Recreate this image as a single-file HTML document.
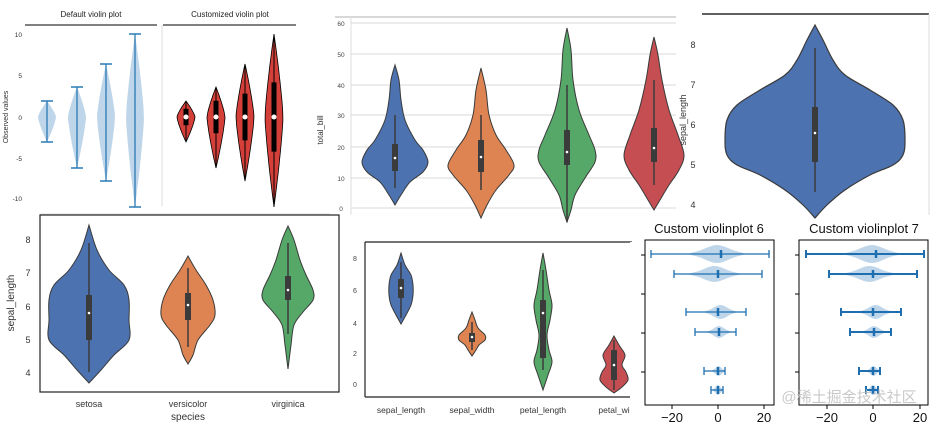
<!DOCTYPE html>
<html><head><meta charset="utf-8"><style>
html,body{margin:0;padding:0;background:#fff;}
svg{display:block;}
text{font-family:"Liberation Sans","DejaVu Sans",sans-serif;}
</style></head><body>
<svg id="s" width="939" height="423" viewBox="0 0 939 423" xmlns="http://www.w3.org/2000/svg">
<rect width="939" height="423" fill="#fff"/>
<line x1="25" y1="25" x2="157" y2="25" stroke="#000" stroke-width="1"/>
<line x1="163" y1="25" x2="296" y2="25" stroke="#000" stroke-width="1"/>
<line x1="162" y1="25" x2="162" y2="206" stroke="#ddd" stroke-width="1"/>
<line x1="40" y1="214" x2="330" y2="214" stroke="#ddd" stroke-width="1"/>
<text x="91" y="17" font-size="8" text-anchor="middle" fill="#222">Default violin plot</text>
<text x="230" y="17" font-size="8" text-anchor="middle" fill="#222">Customized violin plot</text>
<g font-size="6.5" fill="#333" text-anchor="end">
<text x="22" y="37">10</text><text x="22" y="78">5</text><text x="22" y="120">0</text><text x="22" y="161">-5</text><text x="22" y="201">-10</text>
</g>
<text transform="translate(8,117) rotate(-90)" font-size="7" text-anchor="middle" fill="#333">Observed values</text>
<line x1="335" y1="17" x2="676" y2="17" stroke="#ccc" stroke-width="1.5"/>
<g stroke="#d8d8d8" stroke-width="1">
<line x1="351" y1="23" x2="676" y2="23"/><line x1="351" y1="54" x2="676" y2="54"/><line x1="351" y1="85" x2="676" y2="85"/>
<line x1="351" y1="115" x2="676" y2="115"/><line x1="351" y1="147" x2="676" y2="147"/><line x1="351" y1="178" x2="676" y2="178"/><line x1="351" y1="208" x2="676" y2="208"/>
</g>
<line x1="351" y1="17" x2="351" y2="215" stroke="#ddd"/>
<g font-size="6.5" fill="#444" text-anchor="middle">
<text x="341" y="26">60</text><text x="341" y="57">50</text><text x="341" y="88">40</text><text x="341" y="118">30</text><text x="341" y="150">20</text><text x="341" y="181">10</text><text x="341" y="211">0</text>
</g>
<text transform="translate(323,130) rotate(-90)" font-size="8" text-anchor="middle" fill="#333">total_bill</text>
<line x1="702" y1="14" x2="929" y2="14" stroke="#000" stroke-width="1.2"/>
<line x1="929" y1="14" x2="929" y2="215" stroke="#ddd" stroke-width="1"/>
<g font-size="9" fill="#333" text-anchor="middle">
<text x="693" y="48">8</text><text x="693" y="88">7</text><text x="693" y="128">6</text><text x="693" y="168">5</text><text x="693" y="208">4</text>
</g>
<text transform="translate(686,120) rotate(-90)" font-size="9" text-anchor="middle" fill="#333">sepal_length</text>
<rect x="40" y="215" width="299" height="177" fill="none" stroke="#222" stroke-width="1.2"/>
<g font-size="9" fill="#333" text-anchor="middle">
<text x="28" y="243">8</text><text x="28" y="276">7</text><text x="28" y="310">6</text><text x="28" y="343">5</text><text x="28" y="376">4</text>
</g>
<text transform="translate(14,303) rotate(-90)" font-size="10" text-anchor="middle" fill="#333">sepal_length</text>
<g font-size="9" fill="#333" text-anchor="middle">
<text x="89" y="407">setosa</text><text x="188" y="407">versicolor</text><text x="288" y="407">virginica</text>
<text x="188" y="420" font-size="10">species</text>
</g>
<polyline points="365,242 632,242" stroke="#222" stroke-width="1.2" fill="none"/>
<line x1="365" y1="242" x2="365" y2="397" stroke="#222" stroke-width="1.2"/>
<line x1="365" y1="397" x2="632" y2="397" stroke="#222" stroke-width="1.2"/>
<g font-size="7" fill="#444" text-anchor="middle">
<text x="355" y="261">8</text><text x="355" y="293">6</text><text x="355" y="326">4</text><text x="355" y="356">2</text><text x="355" y="387">0</text>
</g>
<g font-size="8.5" fill="#333" text-anchor="middle">
<text x="401" y="413">sepal_length</text><text x="472" y="413">sepal_width</text><text x="543" y="413">petal_length</text><text x="614" y="413">petal_wi</text>
</g>
<rect x="630" y="242" width="14" height="160" fill="#fff"/>
<text x="709" y="233" font-size="13" text-anchor="middle" fill="#111" font-family="DejaVu Sans">Custom violinplot 6</text>
<text x="864" y="233" font-size="13" text-anchor="middle" fill="#111" font-family="DejaVu Sans">Custom violinplot 7</text>
<rect x="645" y="240" width="129" height="165" fill="none" stroke="#000" stroke-width="1"/>
<rect x="799" y="240" width="129" height="165" fill="none" stroke="#000" stroke-width="1"/>
<g stroke="#000" stroke-width="1">
<line x1="641" y1="255" x2="645" y2="255"/><line x1="641" y1="294" x2="645" y2="294"/><line x1="641" y1="333" x2="645" y2="333"/><line x1="641" y1="372" x2="645" y2="372"/>
<line x1="795" y1="255" x2="799" y2="255"/><line x1="795" y1="294" x2="799" y2="294"/><line x1="795" y1="333" x2="799" y2="333"/><line x1="795" y1="372" x2="799" y2="372"/>
<line x1="672" y1="405" x2="672" y2="409"/><line x1="718" y1="405" x2="718" y2="409"/><line x1="764" y1="405" x2="764" y2="409"/>
<line x1="827" y1="405" x2="827" y2="409"/><line x1="873" y1="405" x2="873" y2="409"/><line x1="920" y1="405" x2="920" y2="409"/>
</g>
<g font-size="13" fill="#111" text-anchor="middle" font-family="DejaVu Sans">
<text x="672" y="422">−20</text><text x="718" y="422">0</text><text x="764" y="422">20</text>
<text x="827" y="422">−20</text><text x="873" y="422">0</text><text x="920" y="422">20</text>
</g>
<g id="v"></g>
<text x="849" y="402" font-size="15" fill="#bbb" fill-opacity="0.8" text-anchor="middle" font-family="'Noto Sans CJK SC',sans-serif">@稀土掘金技术社区</text>
</svg>
<script>
var g=document.getElementById('v'),NS='http://www.w3.org/2000/svg';
function el(t,a){var e=document.createElementNS(NS,t);for(var k in a)e.setAttribute(k,a[k]);g.appendChild(e);return e;}
function cr(P){var d='M'+P[0][0].toFixed(1)+' '+P[0][1].toFixed(1);for(var i=0;i<P.length-1;i++){var p0=P[i-1]||P[i],p1=P[i],p2=P[i+1],p3=P[i+2]||p2;
var c1=[p1[0]+(p2[0]-p0[0])/6,p1[1]+(p2[1]-p0[1])/6],c2=[p2[0]-(p3[0]-p1[0])/6,p2[1]-(p3[1]-p1[1])/6];
d+='C'+c1[0].toFixed(1)+' '+c1[1].toFixed(1)+' '+c2[0].toFixed(1)+' '+c2[1].toFixed(1)+' '+p2[0].toFixed(1)+' '+p2[1].toFixed(1);}return d;}
function vV(cx,pts,fill,stroke,sw){var R=pts.map(function(p){return[cx+p[1],p[0]]}),L=pts.slice().reverse().map(function(p){return[cx-p[1],p[0]]});
var d=cr(R)+' L'+cr(L).slice(1)+'Z';el('path',{d:d,fill:fill,stroke:stroke||'none','stroke-width':sw||1});}
function vH(cy,pts,fill){var T=pts.map(function(p){return[p[0],cy-p[1]]}),B=pts.slice().reverse().map(function(p){return[p[0],cy+p[1]]});
el('path',{d:cr(T)+' L'+cr(B).slice(1)+'Z',fill:fill});}
function inner(cx,w1,w2,b1,b2,m){el('line',{x1:cx,y1:w1,x2:cx,y2:w2,stroke:'#3b3b3b','stroke-width':1.5});
el('rect',{x:cx-3,y:b1,width:6,height:b2-b1,fill:'#3b3b3b'});el('circle',{cx:cx,cy:m,r:1.3,fill:'#fff'});}
var A=[[47,101,142,9],[77,87,168,9],[106,64,181,9],[135,34,207,9]];
A.forEach(function(a){var cx=a[0],t=a[1],b=a[2],W=a[3];
var pts=[];for(var i=0;i<=16;i++){var y=t+(b-t)*i/16;var u=y<117?(117-y)/(117-t):(y-117)/(b-117);var w=W*Math.max(0,1-Math.pow(u,1.3));pts.push([y,w*(0.15+0.85*(1-u*u*0))]);}
vV(cx,pts,'#bfd6ea');
el('line',{x1:cx,y1:t,x2:cx,y2:b,stroke:'#2a7bb6','stroke-width':1.3});
el('line',{x1:cx-6,y1:t,x2:cx+6,y2:t,stroke:'#2a7bb6','stroke-width':1.5});
el('line',{x1:cx-6,y1:b,x2:cx+6,y2:b,stroke:'#2a7bb6','stroke-width':1.5});
var cx2=cx+139;
vV(cx2,pts,'#d43f3a','#000',0.8);
el('line',{x1:cx2,y1:t,x2:cx2,y2:b,stroke:'#000','stroke-width':1});
var q=(b-t)*0.2;el('line',{x1:cx2,y1:117-q,x2:cx2,y2:117+q,stroke:'#000','stroke-width':5});
el('circle',{cx:cx2,cy:117,r:2.5,fill:'#fff'});});
vV(395,[[65,0],[80,4],[100,6],[120,10],[140,20],[150,28],[162,33],[172,28],[182,15],[195,6],[205,0]],'#4c72b0','#3a3a3a',1);
inner(395,115,188,144,171,158);
vV(481,[[68,0],[90,5],[115,8],[135,15],[150,25],[165,33],[175,28],[190,15],[205,6],[218,0]],'#dd8452','#3a3a3a',1);
inner(481,115,190,140,172,157);
vV(567,[[28,0],[50,4],[80,6],[110,12],[135,22],[150,28],[162,28],[178,18],[195,8],[210,4],[222,0]],'#55a868','#3a3a3a',1);
inner(567,85,222,130,165,152);
vV(654,[[37,0],[55,4],[80,8],[110,15],[135,24],[155,30],[170,25],[185,15],[200,6],[210,0]],'#c44e52','#3a3a3a',1);
inner(654,80,185,128,162,148);
vV(815,[[25,0],[40,8],[60,18],[75,30],[90,55],[105,78],[120,88],[140,90],[155,88],[165,78],[175,55],[190,30],[205,12],[218,0]],'#4c72b0','#3a3a3a',1.2);
inner(815,48,192,107,162,133);
vV(89,[[225,0],[250,8],[270,20],[285,35],[300,40],[320,40],[340,40],[355,25],[370,12],[383,0]],'#4c72b0','#3a3a3a',1);
inner(89,243,372,295,340,313);
vV(188,[[256,0],[270,8],[285,18],[300,25],[315,27],[325,22],[340,10],[355,5],[364,0]],'#dd8452','#3a3a3a',1);
inner(188,268,347,293,320,305);
vV(288,[[226,0],[240,6],[260,12],[275,18],[290,25],[300,25],[312,15],[325,6],[345,3],[369,0]],'#55a868','#3a3a3a',1);
inner(288,243,334,276,300,290);
vV(401,[[253,0],[265,4],[275,10],[285,12],[295,12],[305,10],[315,5],[324,0]],'#4c72b0','#3a3a3a',1);
inner(401,262,318,279,298,288);
vV(472,[[312,0],[320,3],[328,6],[335,13],[340,13],[345,7],[350,4],[356,0]],'#dd8452','#3a3a3a',1);
inner(472,322,350,333,342,337);
vV(543,[[253,0],[270,3],[290,6],[305,9],[320,7],[335,4],[350,6],[362,9],[375,5],[390,0]],'#55a868','#3a3a3a',1);
inner(543,270,370,300,358,313);
vV(614,[[336,0],[345,5],[355,11],[365,8],[372,12],[380,14],[387,8],[393,0]],'#c44e52','#3a3a3a',1);
inner(614,340,390,350,380,365);
var R=[[254,687,747,9,651,769,721],[274,687,742,8,674,762,718],[312,703,738,7,686,746,718],[332,706,732,6,695,736,719],[371,711,726,5,704,725,718],[390,712,724,5,711,723,718]];
[0,155].forEach(function(off,k){R.forEach(function(r){var cy=r[0],a=r[1]+off,b=r[2]+off,h=r[3],m=(a+b)/2;
vH(cy,[[a,0],[a+(b-a)*0.2,h*0.35],[m,h],[a+(b-a)*0.8,h*0.35],[b,0]],'#bfd6ea');
var sw=k?2:1.3,x1=r[4]+off,x2=r[5]+off;
el('line',{x1:x1,y1:cy,x2:x2,y2:cy,stroke:'#1f6fb0','stroke-width':sw});
el('line',{x1:x1,y1:cy-4,x2:x1,y2:cy+4,stroke:'#1f6fb0','stroke-width':sw});
el('line',{x1:x2,y1:cy-4,x2:x2,y2:cy+4,stroke:'#1f6fb0','stroke-width':sw});
el('line',{x1:r[6]+off,y1:cy-4,x2:r[6]+off,y2:cy+4,stroke:'#1f6fb0','stroke-width':2.5});});});
</script>
</body></html>
